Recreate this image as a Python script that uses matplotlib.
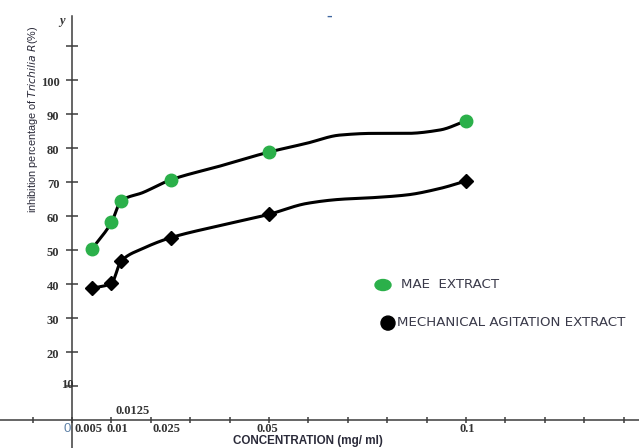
import numpy as np
import matplotlib
matplotlib.use('Agg')
from matplotlib import pyplot as plt
from matplotlib.patches import Ellipse

# ---------------- data ----------------
conc = [0.005, 0.01, 0.0125, 0.025, 0.05, 0.1]          # mg/ml
mae = [50.2, 58.1, 64.5, 70.6, 78.8, 88.0]              # MAE extract
mech = [38.7, 40.2, 46.8, 53.6, 60.5, 70.3]             # mechanical agitation

# extra points
mae_trace_x = [0.018, 0.0376, 0.0596, 0.068, 0.0764, 0.085, 0.0934]
mae_trace_y = [66.9, 74.7, 81.4, 83.8, 84.3, 84.3, 85.3]
mech_trace_x = [0.0181, 0.0384, 0.0596, 0.068, 0.0764, 0.085, 0.0934]
mech_trace_y = [50.5, 57.4, 63.7, 64.9, 65.4, 66.2, 68.1]

xtick_pos = np.arange(-0.01, 0.1405, 0.01)
ytick_pos = np.arange(10, 111, 10)
ytick_labels = ['10', '20', '30', '40', '50', '60', '70', '80', '90', '100']
xtick_labels = ['0.005', '0.01', '0.025', '0.05', '0.1']
xtick_label_vals = [0.005, 0.01, 0.025, 0.05, 0.1]


def smooth(x, y, n=400):
    # monotone cubic hermite through the read points
    x = np.asarray(x, float)
    y = np.asarray(y, float)
    o = np.argsort(x)
    x, y = x[o], y[o]
    h = np.diff(x)
    d = np.diff(y) / h
    m = np.zeros_like(y)
    for k in range(1, len(x) - 1):
        if d[k - 1] * d[k] > 0:
            w1 = 2 * h[k] + h[k - 1]
            w2 = h[k] + 2 * h[k - 1]
            m[k] = (w1 + w2) / (w1 / d[k - 1] + w2 / d[k])
    m[0], m[-1] = d[0], d[-1]
    xs = np.linspace(x[0], x[-1], n)
    i = np.clip(np.searchsorted(x, xs) - 1, 0, len(x) - 2)
    t = (xs - x[i]) / h[i]
    h00 = 2 * t**3 - 3 * t**2 + 1
    h10 = t**3 - 2 * t**2 + t
    h01 = -2 * t**3 + 3 * t**2
    h11 = t**3 - t**2
    ys = h00 * y[i] + h10 * h[i] * m[i] + h01 * y[i + 1] + h11 * h[i] * m[i + 1]
    return xs, ys


fig = plt.figure(figsize=(6.39, 4.48), dpi=100)
ax = fig.add_axes([0, 0, 1, 1])
ax.set_xlim(-72 / 3940, 567 / 3940)
ax.set_ylim(-28 / 3.4, 420 / 3.4)

axc = '#3c3c3c'
for s in ['top', 'right']:
    ax.spines[s].set_visible(False)
ax.spines['left'].set_position(('data', 0))
ax.spines['bottom'].set_position(('data', 0))
ax.spines['left'].set_bounds(-8.3, 118.8)
for s in ['left', 'bottom']:
    ax.spines[s].set_color(axc)
    ax.spines[s].set_linewidth(1.1)

ax.set_xticks(xtick_pos)
ax.set_xticklabels([])
ax.set_yticks(ytick_pos)
ax.set_yticklabels([])
ax.tick_params(axis='x', direction='inout', length=5, width=1.1, color=axc)
ax.tick_params(axis='y', direction='inout', length=8, width=1.1, color=axc)

# curves
xs, ys = smooth(conc + mae_trace_x, mae + mae_trace_y)
ax.plot(xs, ys, color='black', lw=2.2, zorder=3)
xs, ys = smooth(conc + mech_trace_x, mech + mech_trace_y)
ax.plot(xs, ys, color='black', lw=2.2, zorder=3)

green = '#2bb04a'
ax.plot(conc, mae, 'o', color=green, ms=9, zorder=4)
ax.plot(conc, mech, 'D', color='black', ms=7.5, zorder=4)

# tick labels
num = dict(family='Liberation Serif', weight='bold', size=9, color='#333333')
for v, lab in zip(ytick_pos, ytick_labels):
    if v == 10:
        ax.text(-0.0013, v + 0.3, lab, ha='center', va='center', **num)
    else:
        ax.text(-0.0032, v - 0.8, lab, ha='right', va='center', **num)
# labels sit a little off their ticks in the figure
xoff = [-0.0007, 0.0014, -0.0009, -0.0003, 0.0004]
for v, lab, dx in zip(xtick_label_vals, xtick_labels, xoff):
    ax.text(v + dx, -0.9, lab, ha='center', va='top', **num)
ax.text(0.0155, 0.9, '0.0125', ha='center', va='bottom', **num)
ax.text(-0.0013, -0.9, '0', ha='center', va='top', family='Liberation Sans',
        size=9.5, color='#5f82a8')
ax.text(-0.0025, 117.3, 'y', ha='center', va='center', family='Liberation Serif',
        style='italic', weight='bold', size=9, color='#333333')
ax.text(0.0652, 118.6, '\u2013', ha='center', va='center', size=8, weight='bold',
        color='#3f66a0')

ax.text(0.0599, -6.3, 'CONCENTRATION (mg/ ml)', ha='center', va='center',
        family='Liberation Sans', weight='bold', size=8.4, color='#2b2b3a')
ax.text(-0.0099, 88.5, 'inhibition percentage of $\\it{Trichilia\\ R}$(%)', rotation=90,
        ha='center', va='center', family='Liberation Sans', size=7.8, color='#2b2b3a')

# legend drawn by hand as in the figure
ax.add_patch(Ellipse((311 / 3940, 39.7), 16 / 3940, 11 / 3.4, color=green, zorder=5))
ax.add_patch(Ellipse((316 / 3940, 28.5), 14 / 3940, 14 / 3.4, color='black', zorder=5))
leg = dict(family='DejaVu Sans', size=9.6, color='#3a3a4a', va='center', ha='left')
ax.text(329 / 3940, 39.9, 'MAE  EXTRACT', **leg)
ax.text(325 / 3940, 28.8, 'MECHANICAL AGITATION EXTRACT', **leg)

fig.savefig('out.png', dpi=100)
